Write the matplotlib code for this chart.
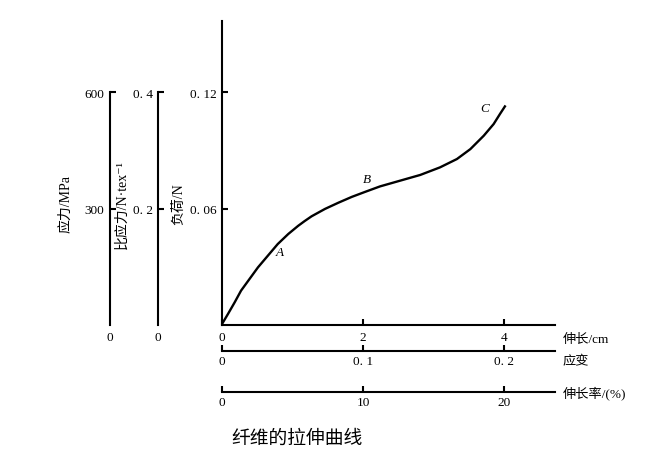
import numpy as np
import matplotlib
matplotlib.use("Agg")
import matplotlib.pyplot as plt

plt.rcParams['font.family'] = ['Liberation Serif', 'DejaVu Serif', 'Noto Sans CJK SC']

# curve: elongation (cm) vs load (N)
elong_cm = [0, 0.085, 0.18, 0.27, 0.39, 0.51, 0.65, 0.79, 0.94, 1.08, 1.17, 1.27, 1.46, 1.65,
            1.84, 2.03, 2.24, 2.52, 2.81, 3.09, 3.33, 3.52, 3.71, 3.85, 3.94, 4.01]
load_N = [0.0005, 0.0057, 0.0117, 0.0177, 0.0237, 0.0297, 0.0357, 0.0417, 0.0469, 0.0511,
          0.0535, 0.0560, 0.0598, 0.0630, 0.0660, 0.0686, 0.0714, 0.0743, 0.0773, 0.0812,
          0.0855, 0.0906, 0.0975, 0.1035, 0.1087, 0.1126]

pt_names = ['A', 'B', 'C']
pt_x = [0.82, 2.06, 3.73]
pt_y = [0.0374, 0.0752, 0.1116]

load_ticks = [0.06, 0.12]
load_labels = ['0. 06', '0. 12']
stress_ticks = [300, 600]
stress_labels = ['300', '600']
spec_ticks = [0.2, 0.4]
spec_labels = ['0. 2', '0. 4']
elong_ticks = [0, 2, 4]
elong_labels = ['0', '2', '4']
strain_ticks = [0, 0.1, 0.2]
strain_labels = ['0', '0. 1', '0. 2']
pct_ticks = [0, 10, 20]
pct_labels = ['0', '10', '20']

xmax = 4.72
ymax = 0.1566
fs = 9.5

fig = plt.figure(figsize=(6.49, 4.56), dpi=100)
rect = [222 / 649, 1 - 326 / 456, 333 / 649, 304 / 456]
ax = fig.add_axes(rect)
ax.plot(elong_cm, load_N, color='black', lw=1.7, solid_joinstyle='round')
ax.set_xlim(0, xmax)
ax.set_ylim(0, ymax)
for s in ['top', 'right']:
    ax.spines[s].set_visible(False)
for s in ['left', 'bottom']:
    ax.spines[s].set_linewidth(1.5)
ax.set_xticks(elong_ticks, elong_labels)
ax.set_yticks(load_ticks, load_labels)
ax.tick_params(direction='in', length=4, width=1.5, labelsize=fs, pad=4)
for n, x, y in zip(pt_names, pt_x, pt_y):
    ax.text(x, y, n, fontsize=fs, style='italic', ha='center', va='center')
ax.set_ylabel('负荷/N', fontsize=10)
ax.yaxis.set_label_coords(-0.112, 0.40)
ax.text(1.024, -0.046, '伸长/cm', transform=ax.transAxes, fontsize=fs, va='center')


def side_axis(pos, ticks, labels, label, label_x):
    a = fig.add_axes(rect, label=label)
    a.patch.set_visible(False)
    for s in ['top', 'right', 'bottom']:
        a.spines[s].set_visible(False)
    a.spines['left'].set_position(('axes', pos))
    a.spines['left'].set_bounds(0, ticks[-1])
    a.spines['left'].set_linewidth(1.5)
    a.set_ylim(0, ticks[-1] * ymax / 0.12)
    a.set_xticks([])
    a.set_yticks(ticks, labels)
    a.tick_params(direction='in', length=4, width=1.5, labelsize=fs, pad=4)
    a.text(pos, -0.02, '0', transform=a.transAxes, fontsize=fs, ha='center', va='top')
    a.set_ylabel(label, fontsize=10)
    a.yaxis.set_label_coords(label_x, 0.40)
    return a


side_axis(-0.336, stress_ticks, stress_labels, '应力/MPa', -0.448)
side_axis(-0.192, spec_ticks, spec_labels, '比应力/N·tex⁻¹', -0.280)


def bottom_axis(pos, lim, ticks, labels, label, label_y):
    a = fig.add_axes(rect, label=label)
    a.patch.set_visible(False)
    for s in ['top', 'right', 'left']:
        a.spines[s].set_visible(False)
    a.spines['bottom'].set_position(('axes', pos))
    a.spines['bottom'].set_linewidth(1.5)
    a.set_xlim(0, lim)
    a.set_yticks([])
    a.set_xticks(ticks, labels)
    a.tick_params(direction='in', length=4, width=1.5, labelsize=fs, pad=3)
    a.text(1.024, label_y, label, transform=a.transAxes, fontsize=fs, va='center')
    return a


bottom_axis(-0.0855, xmax / 20, strain_ticks, strain_labels, '应变', -0.118)
bottom_axis(-0.220, xmax * 5, pct_ticks, pct_labels, '伸长率/(%)', -0.222)

fig.text(297 / 649, 1 - 438 / 456, '纤维的拉伸曲线', fontsize=13.5, ha='center', va='center',
         family=['Noto Sans CJK SC'])

fig.savefig('out.png', dpi=100)
